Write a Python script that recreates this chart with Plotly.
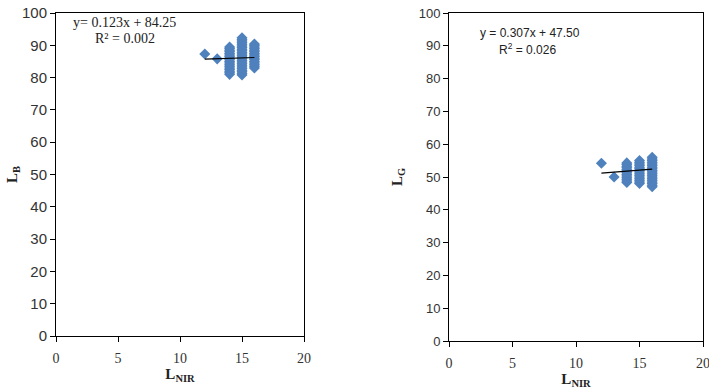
import numpy as np
import plotly.graph_objects as go

# ---------------- data ----------------
b_x12 = [87.3]
b_x13 = [85.8]
b_x14 = [81.0, 81.5, 82.0, 82.5, 83.0, 83.5, 84.0, 84.5, 85.0, 85.5, 86.0, 86.5, 87.0, 87.5, 88.0, 88.5, 89.0, 89.5]
b_x15 = [80.8, 81.3, 81.8, 82.3, 82.8, 83.3, 83.8, 84.3, 84.8, 85.3, 85.8, 86.3, 86.8, 87.3, 87.8, 88.3, 88.8, 89.3, 89.8, 90.3, 90.8, 91.3, 91.8, 92.3]
b_x16 = [83.0, 83.5, 84.0, 84.5, 85.0, 85.5, 86.0, 86.5, 87.0, 87.5, 88.0, 88.5, 89.0, 89.5, 90.0, 90.4]

g_x12 = [54.2]
g_x13 = [50.0]
g_x14 = [48.3, 48.8, 49.3, 49.8, 50.3, 50.8, 51.3, 51.8, 52.3, 52.8, 53.3, 53.8, 54.3]
g_x15 = [48.0, 48.5, 49.0, 49.5, 50.0, 50.5, 51.0, 51.5, 52.0, 52.5, 53.0, 53.5, 54.0, 54.5, 55.0]
g_x16 = [47.0, 47.5, 48.0, 48.5, 49.0, 49.5, 50.0, 50.5, 51.0, 51.5, 52.0, 52.5, 53.0, 53.5, 54.0, 54.5, 55.0, 55.5, 56.0]

nir_levels = [12, 13, 14, 15, 16]
b_cols = [b_x12, b_x13, b_x14, b_x15, b_x16]
g_cols = [g_x12, g_x13, g_x14, g_x15, g_x16]

b_fit = (0.123, 84.25)
g_fit = (0.307, 47.50)
b_eq = ["y= 0.123x + 84.25", "R² = 0.002"]
g_eq = ["y = 0.307x + 47.50", "R<sup>2</sup> = 0.026"]

x_ticks = [0, 5, 10, 15, 20]
y_ticks = [0, 10, 20, 30, 40, 50, 60, 70, 80, 90, 100]

# ---------------- build ----------------
def flatten(levels, cols):
    xs, ys = [], []
    for lv, c in zip(levels, cols):
        xs += [lv] * len(c)
        ys += c
    return xs, ys

W, H = 709, 390
BLUE = "#4F81BD"

fig = go.Figure()

bx, by = flatten(nir_levels, b_cols)
gx, gy = flatten(nir_levels, g_cols)

for xs, ys, xa, ya, fit in [(bx, by, "x", "y", b_fit), (gx, gy, "x2", "y2", g_fit)]:
    fig.add_trace(go.Scatter(x=xs, y=ys, mode="markers", xaxis=xa, yaxis=ya,
                             marker=dict(symbol="diamond", size=8.5, color=BLUE,
                                         line=dict(width=0)),
                             showlegend=False, hoverinfo="x+y"))
    lx = np.array([min(xs), max(xs)], dtype=float)
    fig.add_trace(go.Scatter(x=lx, y=fit[0] * lx + fit[1], mode="lines",
                             xaxis=xa, yaxis=ya,
                             line=dict(color="black", width=1.2),
                             showlegend=False, hoverinfo="skip"))

def px_dom_x(a, b):
    return [a / W, b / W]

def px_dom_y(top, bottom):
    return [1 - bottom / H, 1 - top / H]

serif = "Liberation Serif, Times New Roman, serif"
sans = "Liberation Sans, Arial, sans-serif"

common_x = dict(range=[0, 20], tickvals=x_ticks, showgrid=False, zeroline=False,
                showline=True, linecolor="black", linewidth=1, mirror=True,
                ticks="outside", ticklen=5, tickcolor="black", tickwidth=1,
                tickfont=dict(family=serif, size=14, color="#333333"),
                ticklabelstandoff=4, automargin=False, ticklabeloverflow="allow")
common_y = dict(range=[0, 100], tickvals=y_ticks, showgrid=False, zeroline=False,
                showline=True, linecolor="black", linewidth=1, mirror=True,
                ticks="outside", ticklen=5, tickcolor="black", tickwidth=1,
                automargin=False, ticklabeloverflow="allow")

fig.update_layout(
    template="none",
    width=W, height=H, margin=dict(l=0, r=0, t=0, b=0, pad=0),
    paper_bgcolor="white", plot_bgcolor="white",
    xaxis=dict(domain=px_dom_x(56, 304), anchor="y", **common_x,
               title=dict(text="<b>L<sub>NIR</sub></b>", standoff=2,
                          font=dict(family=serif, size=15, color="#222222"))),
    yaxis=dict(domain=px_dom_y(13, 336), anchor="x", **common_y,
               tickfont=dict(family=sans, size=15, color="#333333"),
               title=dict(text="<b>L<sub>B</sub></b>", standoff=0,
                          font=dict(family=serif, size=15, color="#222222"))),
    xaxis2=dict(domain=px_dom_x(449, 703), anchor="y2", **common_x,
                title=dict(text="<b>L<sub>NIR</sub></b>", standoff=2,
                           font=dict(family=serif, size=15, color="#222222"))),
    yaxis2=dict(domain=px_dom_y(13, 341), anchor="x2", **common_y,
                tickfont=dict(family=sans, size=13, color="#333333"),
                title=dict(text="<b>L<sub>G</sub></b>", standoff=12,
                           font=dict(family=serif, size=15, color="#222222"))),
)

fig.add_annotation(x=5.52, y=97.2, xref="x", yref="y", text=b_eq[0], showarrow=False,
                   font=dict(family=serif, size=14, color="#222222"))
fig.add_annotation(x=5.6, y=92.0, xref="x", yref="y", text=b_eq[1], showarrow=False,
                   font=dict(family=serif, size=14, color="#222222"))
fig.add_annotation(x=6.34, y=93.9, xref="x2", yref="y2", text=g_eq[0], showarrow=False,
                   font=dict(family=sans, size=12, color="#222222"))
fig.add_annotation(x=6.2, y=89.0, xref="x2", yref="y2", text=g_eq[1], showarrow=False,
                   font=dict(family=sans, size=12, color="#222222"))

fig.write_html("out.html", config={"displayModeBar": False},
               post_script="document.body.style.margin='0';document.body.style.overflow='hidden';")
